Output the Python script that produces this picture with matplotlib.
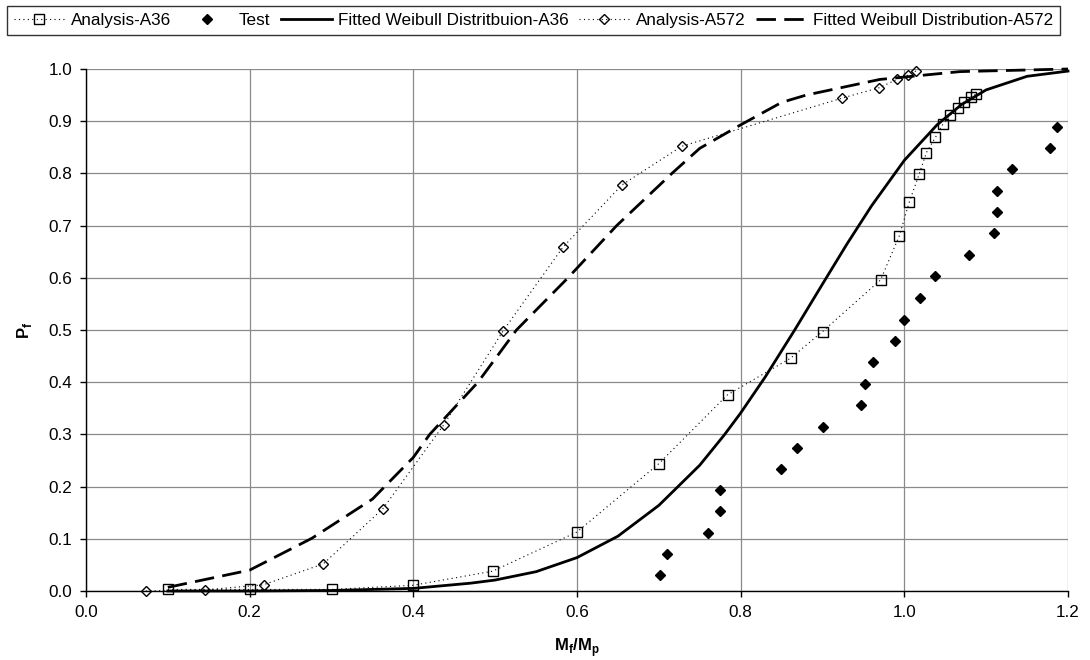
import matplotlib
matplotlib.use("Agg")
import matplotlib.pyplot as plt

plt.rcParams['font.family'] = ['Liberation Sans', 'DejaVu Sans']
plt.rcParams['mathtext.fontset'] = 'custom'
plt.rcParams['mathtext.rm'] = 'Liberation Sans'
plt.rcParams['mathtext.bf'] = 'Liberation Sans:bold'

# ---- data ----
a36_x = [0.100, 0.200, 0.300, 0.400, 0.497, 0.600, 0.700, 0.784, 0.861, 0.900,
         0.971, 0.994, 1.006, 1.018, 1.027, 1.038, 1.047, 1.056, 1.065, 1.0725,
         1.081, 1.088]
a36_y = [0.003, 0.003, 0.003, 0.011, 0.038, 0.113, 0.244, 0.376, 0.446, 0.497,
         0.596, 0.681, 0.745, 0.798, 0.840, 0.869, 0.894, 0.911, 0.925, 0.936,
         0.946, 0.952]

test_x = [0.702, 0.710, 0.760, 0.775, 0.775, 0.849, 0.869, 0.900, 0.947, 0.952,
          0.962, 0.988, 0.999, 1.019, 1.0375, 1.079, 1.110, 1.113, 1.113, 1.132,
          1.178, 1.186]
test_y = [0.030, 0.070, 0.111, 0.153, 0.194, 0.233, 0.274, 0.315, 0.356, 0.397,
          0.438, 0.479, 0.520, 0.562, 0.603, 0.644, 0.685, 0.726, 0.767, 0.808,
          0.848, 0.889]

fit36_x = [0.10, 0.20, 0.30, 0.40, 0.47, 0.50, 0.55, 0.60, 0.65, 0.70, 0.75, 0.78,
           0.80, 0.83, 0.866, 0.90, 0.93, 0.96, 1.00, 1.04, 1.07, 1.10, 1.15, 1.20]
fit36_y = [0.000, 0.000, 0.001, 0.005, 0.015, 0.021, 0.037, 0.064, 0.105, 0.164,
           0.241, 0.299, 0.341, 0.410, 0.500, 0.588, 0.665, 0.738, 0.825, 0.893,
           0.932, 0.960, 0.986, 0.996]

a572_x = [0.073, 0.145, 0.217, 0.290, 0.363, 0.437, 0.510, 0.583, 0.655, 0.728,
          0.9235, 0.969, 0.991, 1.004, 1.014]
a572_y = [0.000, 0.002, 0.012, 0.052, 0.158, 0.318, 0.499, 0.659, 0.778, 0.852,
          0.944, 0.964, 0.980, 0.988, 0.996]

fit572_x = [0.10, 0.20, 0.276, 0.35, 0.40, 0.42, 0.479, 0.526, 0.589, 0.6485,
            0.716, 0.75, 0.80, 0.85, 0.88, 0.97, 1.068, 1.20]
fit572_y = [0.007, 0.040, 0.101, 0.176, 0.256, 0.300, 0.400, 0.500, 0.600, 0.700,
            0.800, 0.848, 0.893, 0.936, 0.950, 0.980, 0.995, 1.000]

xticks = [0.0, 0.2, 0.4, 0.6, 0.8, 1.0, 1.2]
yticks = [0.0, 0.1, 0.2, 0.3, 0.4, 0.5, 0.6, 0.7, 0.8, 0.9, 1.0]

# ---- figure ----
fig = plt.figure(figsize=(10.9, 6.6), dpi=100)
ax = fig.add_axes([86/1090, 1-591/660, (1068-86)/1090, (591-69)/660])

dot = (0, (1, 3))
h1, = ax.plot(a36_x, a36_y, color='black', lw=0.8, linestyle=dot, marker='s',
              ms=7, mfc='none', mec='black', mew=1.0, clip_on=False,
              label='Analysis-A36')
h2, = ax.plot(test_x, test_y, linestyle='none', marker='D', ms=4.6,
              mfc='black', mec='black', clip_on=False, label='Test')
h3, = ax.plot(fit36_x, fit36_y, color='black', lw=2.0, clip_on=False,
              label='Fitted Weibull Distritbuion-A36')
h4, = ax.plot(a572_x, a572_y, color='black', lw=0.8, linestyle=dot, marker='D',
              ms=5.5, mfc='none', mec='black', mew=1.0, clip_on=False,
              label='Analysis-A572')
h5, = ax.plot(fit572_x, fit572_y, color='black', lw=2.0, linestyle=(0, (7, 3)),
              clip_on=False, label='Fitted Weibull Distribution-A572')

ax.set_xlim(0, 1.2)
ax.set_ylim(0, 1.0)
ax.set_xticks(xticks)
ax.set_yticks(yticks)
ax.set_xticklabels([f'{v:.1f}' for v in xticks])
ax.set_yticklabels([f'{v:.1f}' for v in yticks])
ax.grid(True, color='#8a8a8a', lw=0.9)
ax.set_axisbelow(True)
for s in ['top', 'right']:
    ax.spines[s].set_visible(False)
for s in ['left', 'bottom']:
    ax.spines[s].set_color('black')
    ax.spines[s].set_linewidth(1.0)
ax.tick_params(direction='out', length=4, width=1, labelsize=12.3, pad=6,
               colors='black')

ax.set_xlabel(r'$\mathbf{M}_{\mathbf{f}}\mathbf{/M}_{\mathbf{p}}$', fontsize=12,
              labelpad=12)
ax.set_ylabel(r'$\mathbf{P}_{\mathbf{f}}$', fontsize=12, labelpad=10)

leg = fig.legend(handles=[h1, h2, h3, h4, h5], loc='upper left',
                 bbox_to_anchor=(7/1090, 1-6/660), ncol=5, frameon=True,
                 fancybox=False, edgecolor='black', fontsize=12.3,
                 handlelength=3.0, handletextpad=0.35, columnspacing=0.6,
                 borderpad=0.4, numpoints=1, borderaxespad=0)
leg.get_frame().set_linewidth(1.0)

fig.savefig('out.png', dpi=100)
